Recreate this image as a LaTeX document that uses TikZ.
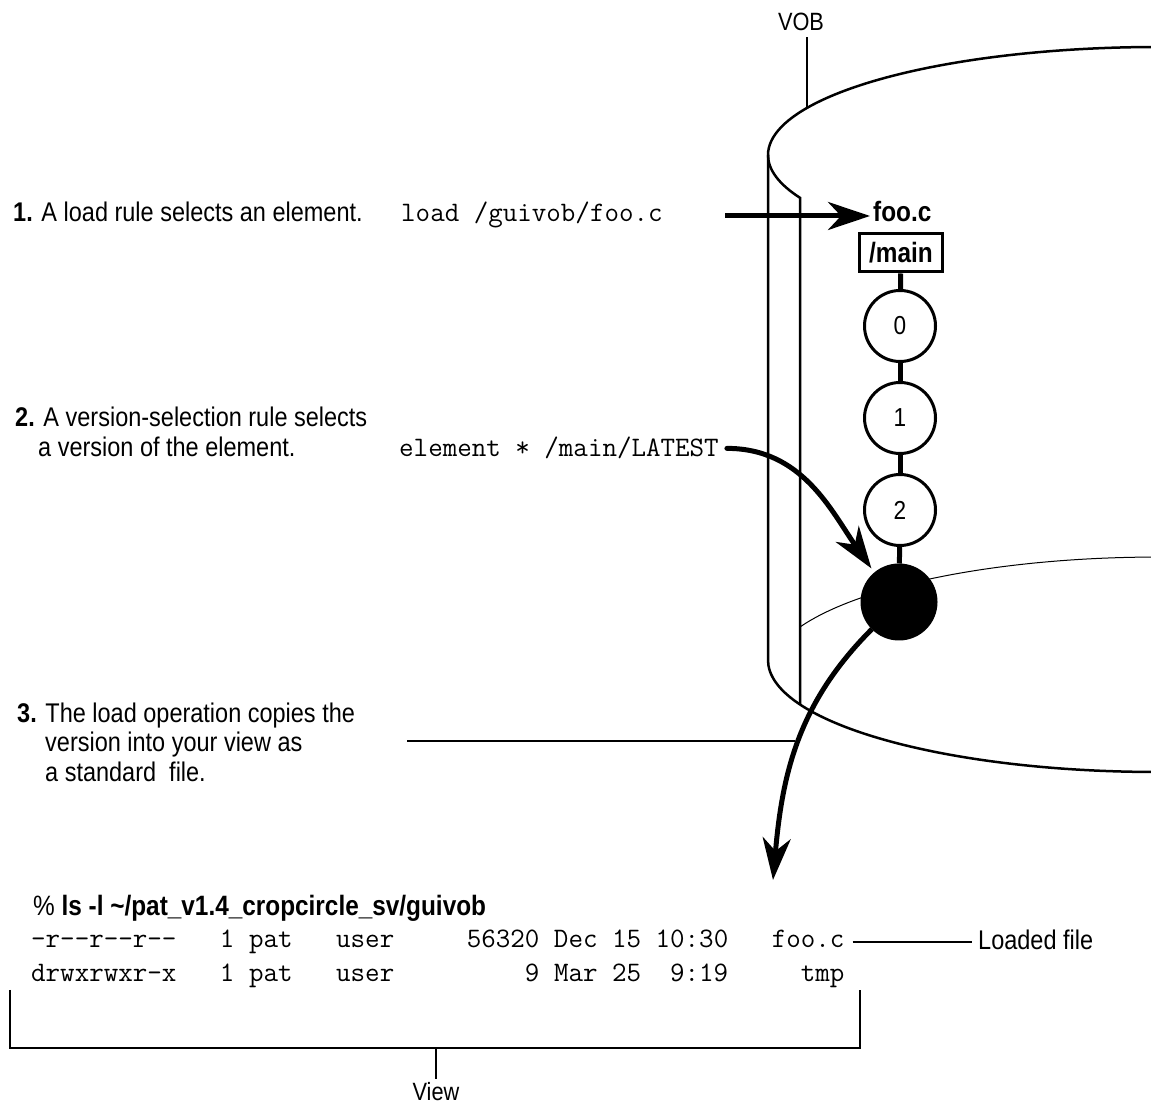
\documentclass[tikz,border=0pt]{standalone}
\usepackage{fontspec}
\setmainfont{Liberation Sans}[FakeStretch=0.87]
\usetikzlibrary{arrows.meta}

\begin{document}
\begin{tikzpicture}[x=1pt, y=1pt,
  every node/.style={inner sep=0pt, font=\fontsize{27}{32}\selectfont},
  cmd/.style={font=\fontsize{28.2}{32}\selectfont\ttfamily},
  boldtext/.style={font=\fontsize{28}{32}\selectfont\bfseries},
  version/.style={circle, draw, line width=3pt, minimum size=71pt, font=\fontsize{26}{30}\selectfont},
  wall/.style={line width=2.5pt},
  leader/.style={line width=2pt},
  chain/.style={line width=5pt},
  bigarrow/.style={line width=5pt, -{Stealth[length=42pt, width=28pt, inset=13pt]}}]
  \useasboundingbox (0,0) rectangle (1151,1108);
  \clip (0,0) rectangle (1151,1108);
  % the VOB as a cut cylinder
  \draw [wall] (768,953) arc[start angle=180, end angle=80, x radius=390, y radius=108];
  \draw [wall] (768,953) arc[start angle=180, end angle=203.4, x radius=390, y radius=108] -- (800,403.5);
  \draw [wall] (768,953) -- (768,448) arc[start angle=180, end angle=300, x radius=390, y radius=112];
  \draw [line width=1pt] (800,481) arc[start angle=156.6, end angle=80, x radius=390, y radius=116];
  \node (vob) [inner sep=6pt, font=\fontsize{25}{30}\selectfont] at (801,1086) {VOB};
  \coordinate (vobfoot) at (807,1000);
  \draw [leader] (vobfoot) -- (vobfoot |- vob.south);
  % element and its versions
  \node (foo) [boldtext, anchor=base west] at (873,886) {foo.c};
  \node (main) [boldtext, draw, line width=3pt, minimum width=83pt, minimum height=38pt] at (901,855) {/main};
  \node (0) [version] at (900,782) {0};
  \node (1) [version] at (900,690) {1};
  \node (2) [version] at (900,598) {2};
  \node (3) [version, fill=black, minimum size=74pt] at (899,506) {};
  \draw [chain] (main) -- (0);
  \draw [chain] (0) -- (1);
  \draw [chain] (1) -- (2);
  \draw [chain] (2) -- (3);
  % step 1
  \node (s1) [anchor=base west] at (13,886) {\textbf{1.} A load rule selects an element.};
  \node (loadrule) [cmd, anchor=base west] at (401,886) {load /guivob/foo.c};
  \coordinate (a1) at (725,892);
  \draw [bigarrow, shorten >=3pt] (a1) -- (a1 -| foo.west);
  % step 2
  \node (s2a) [anchor=base west] at (15,681) {\textbf{2.} A version-selection rule selects};
  \node (s2b) [anchor=base west] at (38,651) {a version of the element.};
  \node (elrule) [cmd, anchor=base west] at (399,651) {element * /main/LATEST};
  \draw [bigarrow, line cap=round, shorten >=5pt] ([xshift=8pt]elrule.east) to[out=0, in=125] (3.130);
  % step 3
  \node (s3a) [anchor=base west] at (17,385) {\textbf{3.} The load operation copies the};
  \node (s3b) [anchor=base west] at (45,356) {version into your view as};
  \node (s3c) [anchor=base west] at (45,326) {a standard\ \ file.};
  \coordinate (s3l) at (407,367);
  \coordinate (s3r) at (795,367);
  \draw [leader] (s3l) -- (s3r);
  \coordinate (drop) at (773,228);
  \draw [bigarrow] (3.225) to[out=225, in=85] (drop);
  % the view
  \node (ls) [anchor=base west, font=\fontsize{28}{32}\selectfont] at (33,192) {\% \textbf{ls -l \textasciitilde/pat\_v1.4\_cropcircle\_sv/guivob}};
  \node (row1) [cmd, anchor=base west] at (31,160) {-r--r--r--~~~1~pat~~~user~~~~~56320~Dec~15~10:30~~~foo.c};
  \node (row2) [cmd, anchor=base west] at (31,126) {drwxrwxr-x~~~1~pat~~~user~~~~~~~~~9~Mar~25~~9:19~~~~~tmp};
  \node (loaded) [anchor=base west] at (978,158) {Loaded file};
  \draw [leader, shorten <=8pt, shorten >=6pt] (row1.east) -- (row1.east -| loaded.west);
  \coordinate (bl) at (10,118);
  \coordinate (br) at (860,118);
  \draw [leader] (bl) -- ++(0,-58) -| (br);
  \node (view) [anchor=base, font=\fontsize{25}{30}\selectfont] at (436,7) {View};
  \coordinate (vt) at (436,60);
  \draw [leader, shorten <=4pt] (view.north) -- (vt);
\end{tikzpicture}
\end{document}
